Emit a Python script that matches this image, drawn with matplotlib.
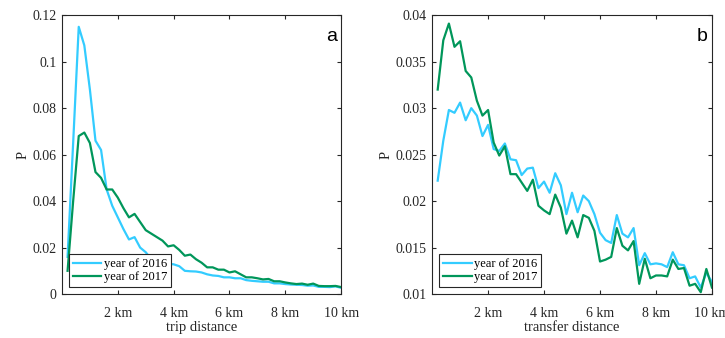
import numpy as np
import matplotlib.pyplot as plt

# distance bins (km)
dist_km = np.round(np.arange(0.2, 10.01, 0.2), 1)

# trip distance distribution
trip_2016 = [0.016, 0.065, 0.115, 0.107, 0.088, 0.066, 0.062, 0.045, 0.038, 0.033,
             0.028, 0.0235, 0.0245, 0.020, 0.018, 0.015, 0.0135, 0.013, 0.013, 0.0128,
             0.012, 0.0100, 0.0098, 0.0097, 0.0093, 0.0085, 0.008, 0.0078, 0.0072, 0.0072,
             0.0068, 0.0068, 0.006, 0.0057, 0.0055, 0.0053, 0.0053, 0.0046, 0.0046, 0.0043,
             0.0041, 0.004, 0.0039, 0.0036, 0.0037, 0.0031, 0.0031, 0.003, 0.0033, 0.0027]
trip_2017 = [0.010, 0.040, 0.068, 0.0695, 0.065, 0.0525, 0.050, 0.045, 0.045, 0.0415,
             0.037, 0.033, 0.0345, 0.031, 0.0275, 0.026, 0.0245, 0.023, 0.0205, 0.021,
             0.019, 0.0165, 0.017, 0.015, 0.0135, 0.0115, 0.0115, 0.0105, 0.0105, 0.0093,
             0.0098, 0.0085, 0.0072, 0.0072, 0.0068, 0.0063, 0.0065, 0.0055, 0.0055, 0.005,
             0.0046, 0.0043, 0.0045, 0.004, 0.0045, 0.0035, 0.0034, 0.0034, 0.0035, 0.003]

# transfer distance distribution
transfer_2016 = [0.0222, 0.0265, 0.0298, 0.0295, 0.0306, 0.0287, 0.030, 0.0292, 0.0270, 0.0282,
                 0.0256, 0.0254, 0.0262, 0.0245, 0.0244, 0.0228, 0.0235, 0.0236, 0.0214, 0.0221,
                 0.0209, 0.023, 0.0217, 0.0186, 0.0209, 0.0188, 0.0206, 0.020, 0.0186, 0.0166,
                 0.0158, 0.0155, 0.0185, 0.0165, 0.0161, 0.0171, 0.0131, 0.0144, 0.0132, 0.0133,
                 0.0132, 0.0129, 0.0145, 0.0132, 0.0131, 0.0117, 0.0119, 0.0107, 0.0123, 0.0113]
transfer_2017 = [0.032, 0.0373, 0.0391, 0.0366, 0.0372, 0.034, 0.0333, 0.0308, 0.0292, 0.0298,
                 0.0263, 0.0249, 0.0259, 0.0229, 0.0229, 0.022, 0.0211, 0.0223, 0.0195, 0.019,
                 0.0186, 0.0207, 0.0193, 0.0165, 0.0179, 0.0161, 0.0185, 0.0182, 0.0168, 0.0135,
                 0.0137, 0.014, 0.0171, 0.0152, 0.0147, 0.0157, 0.0111, 0.0138, 0.0117, 0.012,
                 0.012, 0.0119, 0.0137, 0.0127, 0.0128, 0.0109, 0.0111, 0.0102, 0.0127, 0.0107]

xticks = [2, 4, 6, 8, 10]
xticklabels = ['2 km', '4 km', '6 km', '8 km', '10 km']

c16 = '#33ccff'
c17 = '#00965a'
edge = '#262626'

plt.rcParams['font.family'] = 'Liberation Serif'

fig = plt.figure(figsize=(7.25, 3.38), dpi=100)
ax1 = fig.add_axes([0.0855, 0.130, 0.385, 0.825])
ax2 = fig.add_axes([0.596, 0.130, 0.386, 0.825])

panels = [
    (ax1, trip_2016, trip_2017, 'trip distance', (0, 0.12), [0, 0.02, 0.04, 0.06, 0.08, 0.1, 0.12],
     ['0', '0.02', '0.04', '0.06', '0.08', '0.1', '0.12'], 'a'),
    (ax2, transfer_2016, transfer_2017, 'transfer distance', (0.01, 0.04),
     [0.01, 0.015, 0.02, 0.025, 0.03, 0.035, 0.04],
     ['0.01', '0.015', '0.02', '0.025', '0.03', '0.035', '0.04'], 'b'),
]

for ax, y16, y17, xlab, ylim, yt, ytl, tag in panels:
    ax.plot(dist_km, y16, color=c16, lw=1.6, label='year of 2016')
    ax.plot(dist_km, y17, color=c17, lw=1.6, label='year of 2017')
    ax.set_xlim(0, 10)
    ax.set_ylim(*ylim)
    ax.set_xticks(xticks)
    ax.set_xticklabels(xticklabels)
    ax.set_yticks(yt)
    ax.set_yticklabels(ytl)
    ax.tick_params(direction='in', length=3, width=0.8, top=True, right=True,
                   labelsize=10, colors=edge)
    ax.tick_params(axis='x', pad=9)
    ax.tick_params(axis='y', pad=4)
    for s in ax.spines.values():
        s.set_color(edge)
        s.set_linewidth(0.8)
    ax.set_xlabel(xlab, fontsize=10.5, color=edge, labelpad=1)
    ax.set_ylabel('P', fontsize=10.5, color=edge, labelpad=2)
    ax.text(0.985, 0.925, tag, transform=ax.transAxes, ha='right', va='center',
            fontsize=14, family='Liberation Sans')
    leg = ax.legend(loc='lower left', bbox_to_anchor=(0.025, 0.025), fontsize=9,
                    fancybox=False, framealpha=1, edgecolor=edge, borderpad=0.3,
                    labelspacing=0.1, handlelength=2.3, handletextpad=0.2, borderaxespad=0)
    leg.get_frame().set_linewidth(0.8)

fig.savefig('out.png', dpi=100)
